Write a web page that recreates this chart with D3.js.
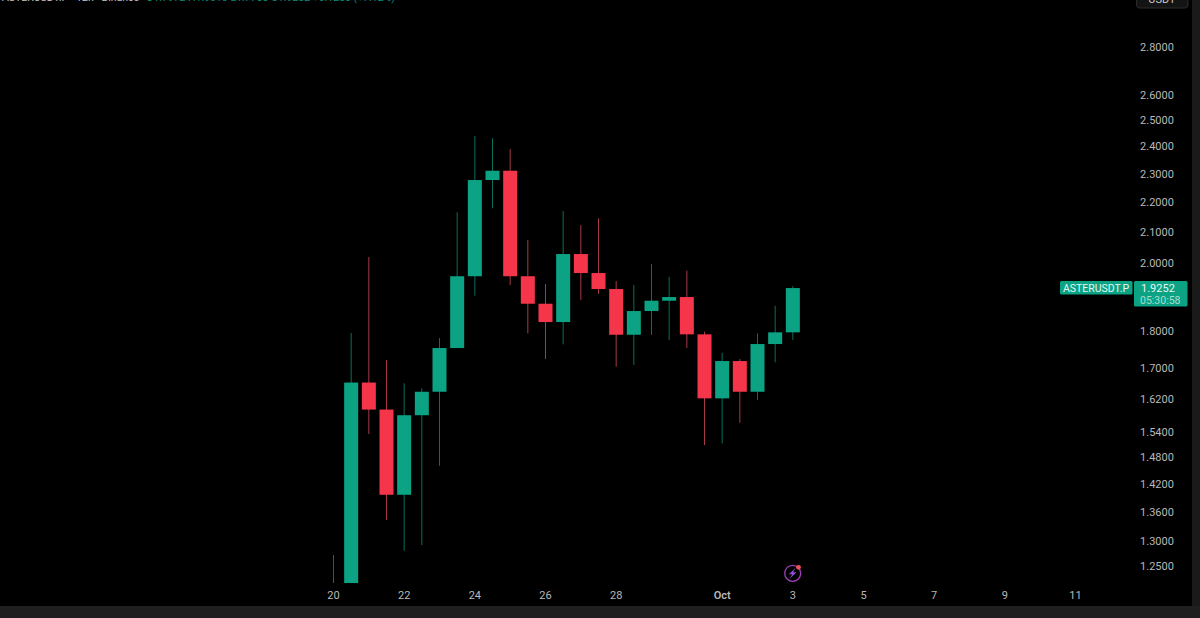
<!DOCTYPE html>
<html><head><meta charset="utf-8">
<style>html,body{margin:0;padding:0;background:#000;overflow:hidden}svg{display:block}</style>
<script src="https://cdn.jsdelivr.net/npm/d3@7"></script></head>
<body><svg id="c" width="1200" height="618"></svg>
<script>
// One candle every 12 hours, starting 20 Sep 00:00
const opens  = [1.2714,1.2173,1.6623,1.5940,1.3963,1.5800,1.6387,1.7539,1.9609,2.2771,2.3102,1.9609,1.8789,1.8262,2.0297,1.9707,1.9223,1.7905,1.8577,1.8877,1.8985,1.7916,1.6220,1.7188,1.6387,1.7648,1.7972];
const closes = [1.2714,1.6623,1.5940,1.3963,1.5800,1.6387,1.7539,1.9609,2.2771,2.3102,1.9609,1.8789,1.8262,2.0297,1.9707,1.9223,1.7905,1.8577,1.8877,1.8985,1.7916,1.6220,1.7188,1.6387,1.7648,1.7972,1.9252];
const highs  = [1.2714,1.7953,2.0203,1.7215,1.6603,1.6474,1.7814,2.1656,2.4383,2.4295,2.3895,2.0744,1.9373,2.1700,2.1233,2.1455,1.9463,1.9343,1.9984,1.9585,1.9777,1.7989,1.7411,1.7242,1.7944,1.8731,1.9313];
const lows   = [1.2173,1.2173,1.5345,1.3425,1.2800,1.2913,1.4607,1.7539,1.9024,2.1791,1.9343,1.7944,1.7242,1.7640,1.8897,1.9074,1.7037,1.7082,1.7897,1.7758,1.7539,1.5085,1.5125,1.5617,1.6177,1.7153,1.7758];
const priceTicks = [2.8,2.6,2.5,2.4,2.3,2.2,2.1,2.0,1.8,1.7,1.62,1.54,1.48,1.42,1.36,1.30,1.25];
const dateTicks = [[0,"20"],[4,"22"],[8,"24"],[12,"26"],[16,"28"],[22,"Oct"],[26,"3"],[30,"5"],[34,"7"],[38,"9"],[42,"11"]];
const symbol = "ASTERUSDT.P";
const lastPrice = 1.9252;
const countdown = "05:30:58";
const headerName = "ASTERUSDT.P · 12h · Binance";
const headerValues = "O1.7972 H1.9313 L1.7758 C1.9252 +0.1280 (+7.12%)";
const unit = "USDT";

const svg=d3.select("#c");
const font="Roboto, 'Liberation Sans', sans-serif";
const x=d3.scaleLinear().domain([0,42]).range([333.5,1075.5]);
const y=d3.scaleLog().domain([1.25,2.8]).range([566,47]);

svg.append("rect").attr("width",1200).attr("height",618).attr("fill","#000");

const g=svg.selectAll("g.c").data(opens.map((o,i)=>({i,o,c:closes[i],h:highs[i],l:lows[i]}))).join("g");
g.append("line").attr("x1",d=>x(d.i)).attr("x2",d=>x(d.i)).attr("y1",d=>y(d.h)).attr("y2",d=>y(d.l))
 .attr("stroke",d=>d.c>=d.o?"#0b6e5d":"#a83a45").attr("stroke-width",1);
g.append("rect").attr("x",d=>x(d.i)-7).attr("width",14)
 .attr("y",d=>y(Math.max(d.o,d.c))).attr("height",d=>Math.abs(y(d.o)-y(d.c)))
 .attr("fill",d=>d.c>=d.o?"#0ba384":"#f5364a");

// price axis
svg.append("g").selectAll("text").data(priceTicks).join("text")
 .attr("x",1157).attr("y",d=>y(d)).attr("dy","0.36em").attr("text-anchor","middle")
 .attr("font-family",font).attr("font-size",11).attr("fill","#b8b8b8").text(d=>d.toFixed(4));

// time axis
svg.append("g").selectAll("text").data(dateTicks).join("text")
 .attr("x",d=>x(d[0])).attr("y",595).attr("dy","0.36em").attr("text-anchor","middle")
 .attr("font-family",font).attr("font-size",11).attr("font-weight",d=>d[1]==="Oct"?600:400).attr("fill","#b8b8b8").text(d=>d[1]);

// last-price tag
const ly=y(lastPrice);
svg.append("rect").attr("x",1060).attr("y",ly-7).attr("width",72.5).attr("height",13.5).attr("rx",1.5).attr("fill","#0ba384");
svg.append("text").attr("x",1096).attr("y",ly-0.3).attr("dy","0.36em").attr("text-anchor","middle").attr("font-family",font).attr("font-size",10.5).attr("fill","#e6f5f1").text(symbol);
svg.append("rect").attr("x",1134).attr("y",ly-7).attr("width",53.5).attr("height",25.5).attr("rx",1.5).attr("fill","#0ba384");
svg.append("text").attr("x",1141).attr("y",ly).attr("dy","0.36em").attr("font-family",font).attr("font-size",11).attr("fill","#e6f5f1").text(lastPrice.toFixed(4));
svg.append("text").attr("x",1140).attr("y",ly+12).attr("dy","0.36em").attr("font-family",font).attr("font-size",10.5).attr("fill","#a8dcd0").text(countdown);

// header (cropped by the top edge)
svg.append("text").attr("x",2).attr("y",1).attr("font-family",font).attr("font-size",10.5).attr("fill","#c4c4c4").text(headerName);
svg.append("text").attr("x",146).attr("y",1).attr("font-family",font).attr("font-size",10.5).attr("fill","#0b8d74").text(headerValues);

// unit button
svg.append("rect").attr("x",1136.5).attr("y",-8).attr("width",51.5).attr("height",16).attr("rx",3).attr("fill","#141414").attr("stroke","#2a2a2a");
svg.append("text").attr("x",1162).attr("y",3).attr("text-anchor","middle").attr("font-family",font).attr("font-size",11).attr("fill","#c8c8c8").text(unit);

// bolt marker
const cx=792.7, cy=573.3;
svg.append("circle").attr("cx",cx).attr("cy",cy).attr("r",8).attr("fill","none").attr("stroke","#9c3fb4").attr("stroke-width",1.3);
svg.append("path").attr("d",d3.line()([[cx+3,cy-5.5],[cx-3.8,cy+1],[cx-0.4,cy+1],[cx-3,cy+5.5],[cx+3.8,cy-1],[cx+0.4,cy-1]])+"Z").attr("fill","#8f4fd8");
svg.append("circle").attr("cx",cx+5.8).attr("cy",cy-6).attr("r",2.4).attr("fill","#f0505a");

// screenshot edge strips
svg.append("rect").attr("x",1192).attr("width",8).attr("height",618).attr("fill","#1a1a1a");
svg.append("rect").attr("y",606).attr("width",1200).attr("height",12).attr("fill","#1f1f1f");
</script></body></html>
